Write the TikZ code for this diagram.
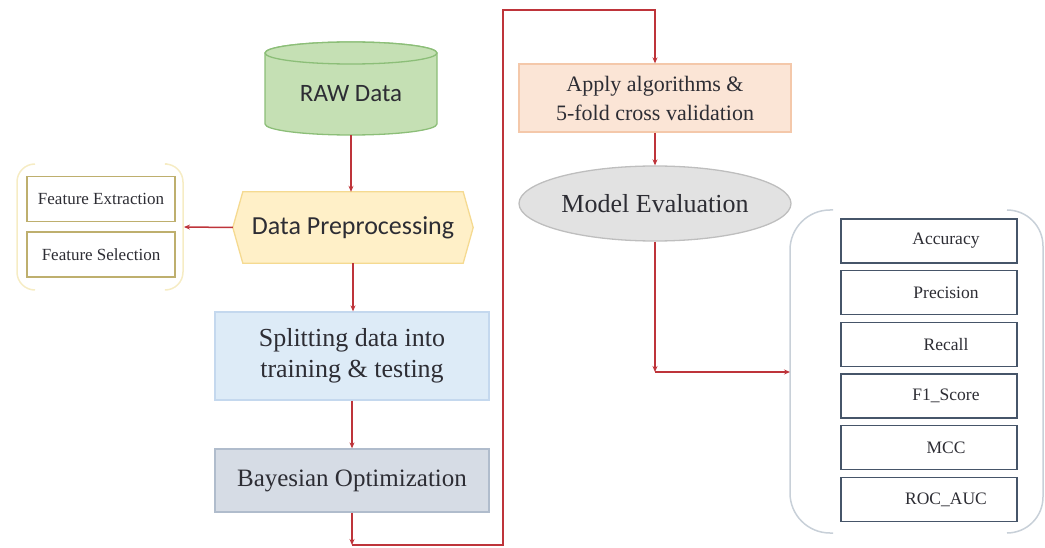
\documentclass[tikz,border=0pt]{standalone}
\usepackage{fontspec}
\setmainfont{Liberation Serif}
\newfontfamily\calibri{Carlito}
\usetikzlibrary{arrows.meta,backgrounds,shapes.geometric}

\definecolor{flow}{RGB}{190,52,58}
\definecolor{ink}{RGB}{45,45,52}
\definecolor{rawfill}{RGB}{197,224,180}
\definecolor{rawedge}{RGB}{140,190,120}
\definecolor{prefill}{RGB}{255,240,200}
\definecolor{preedge}{RGB}{245,218,145}
\definecolor{splitfill}{RGB}{221,235,247}
\definecolor{splitedge}{RGB}{196,216,238}
\definecolor{bayfill}{RGB}{214,220,229}
\definecolor{bayedge}{RGB}{176,188,204}
\definecolor{applyfill}{RGB}{251,229,214}
\definecolor{applyedge}{RGB}{244,200,170}
\definecolor{evalfill}{RGB}{226,226,226}
\definecolor{evaledge}{RGB}{190,190,190}
\definecolor{featedge}{RGB}{190,175,110}
\definecolor{featbrace}{RGB}{246,236,196}
\definecolor{metricedge}{RGB}{70,85,105}
\definecolor{metricbrace}{RGB}{200,208,216}

\tikzset{
  stepbox/.style={draw, line width=1.3pt, inner sep=0pt, align=center, text=ink},
  featbox/.style={stepbox, draw=featedge, line width=1.2pt, fill=white,
    minimum width=148pt, minimum height=45pt, font=\fontsize{17}{20}\selectfont},
  metricbox/.style={draw=metricedge, line width=1.3pt, fill=white,
    minimum width=176pt, minimum height=44pt, inner sep=0pt},
  metrictext/.style={text=ink, xshift=17pt, font=\fontsize{17.5}{21}\selectfont},
  flowline/.style={draw=flow, line width=1.5pt},
  flowarrow/.style={flowline, -{Stealth[length=6pt,width=5pt]}},
}

\begin{document}
\begin{tikzpicture}[x=1pt,y=1pt]
\useasboundingbox (0,0) rectangle (1045,-548);

% left column
\node[text=ink, font=\calibri\fontsize{25}{30}\selectfont,
      minimum width=172pt, minimum height=82pt, inner sep=0pt] (raw) at (351,-94) {RAW Data};
\node[text=ink, font=\calibri\fontsize{26}{31}\selectfont,
      minimum width=240pt, minimum height=71pt, inner sep=0pt] (pre) at (353,-227.5) {Data Preprocessing};
\node[stepbox, draw=splitedge, fill=splitfill, minimum width=274pt, minimum height=88pt,
      font=\fontsize{26}{31}\selectfont] (split) at (352,-356) {Splitting data into\\training \& testing};
\node[stepbox, draw=bayedge, fill=bayfill, minimum width=274pt, minimum height=63pt,
      font=\fontsize{25}{30}\selectfont] (bay) at (352,-480.5) {Bayesian Optimization};

% feature group
\node[featbox] (fe) at (101,-199) {Feature Extraction};
\node[featbox] (fs) at (101,-254.5) {Feature Selection};
\coordinate (fgrp) at (184,-227);
\draw[featbrace, line width=1.5pt, rounded corners=18pt] (35,-164) -- (17,-164) -- (17,-290) -- (35,-290);
\draw[featbrace, line width=1.5pt, rounded corners=18pt] (167,-164) -- (183,-164) -- (183,-290) -- (167,-290);

% right column
\node[stepbox, draw=applyedge, fill=applyfill, minimum width=272pt, minimum height=68pt,
      font=\fontsize{22}{29}\selectfont] (apply) at (655,-98) {Apply algorithms \&\\5-fold cross validation};
\node[stepbox, ellipse, draw=evaledge, fill=evalfill, minimum width=272pt, minimum height=75pt,
      font=\fontsize{26}{31}\selectfont] (eval) at (655,-203.5) {Model Evaluation};

% metrics group
\foreach \name/\txt/\yy in {m1/Accuracy/241, m2/Precision/292.7, m3/Recall/344.4,
                            m4/F1\_Score/396.1, m5/MCC/447.8, m6/ROC\_AUC/499.5}
  \node[metricbox, label={[metrictext]center:\txt}] (\name) at (929,-\yy) {};
\coordinate (mgrp) at (790,-372);
\draw[metricbrace, line width=1.5pt, rounded corners=40pt] (833,-210) -- (790,-210) -- (790,-533) -- (833,-533);
\draw[metricbrace, line width=1.5pt, rounded corners=36pt] (1007,-210) -- (1043,-210) -- (1043,-533) -- (1007,-533);

% shapes behind the text
\begin{scope}[on background layer]
  % cylinder
  \path[fill=rawfill, draw=rawedge, line width=1.3pt]
    (265,-53) -- (265,-124) arc[start angle=180, end angle=360, x radius=86, y radius=11]
    -- (437,-53) arc[start angle=0, end angle=180, x radius=86, y radius=11] -- cycle;
  \draw[fill=rawfill, draw=rawedge, line width=1.3pt] (351,-53) ellipse [x radius=86, y radius=11];
  % hexagon
  \path[fill=prefill, draw=preedge, line width=1.3pt]
    (pre.west) -- ([xshift=10pt]pre.north west) -- ([xshift=-10pt]pre.north east)
    -- (pre.east) -- ([xshift=-10pt]pre.south east) -- ([xshift=10pt]pre.south west) -- cycle;
\end{scope}

% connectors
\coordinate (c1) at (352,-545);
\coordinate (c2) at (503,-10);
\coordinate (c3) at (655,-372);
\draw[flowarrow] (raw.south) -- (raw.south |- pre.north);
\draw[flowarrow] (pre.west) -- (fgrp);
\draw[flowarrow] (pre.south) -- (pre.south |- split.north);
\draw[flowarrow] (split.south) -- (bay.north);
\draw[flowarrow] (bay.south) -- (c1);
\draw[flowarrow] (c1) -| (c2) -| (apply.north);
\draw[flowarrow] (apply.south) -- (eval.north);
\draw[flowarrow] (eval.south) -- (c3);
\draw[flowarrow] (c3) -- (mgrp);
\end{tikzpicture}
\end{document}
